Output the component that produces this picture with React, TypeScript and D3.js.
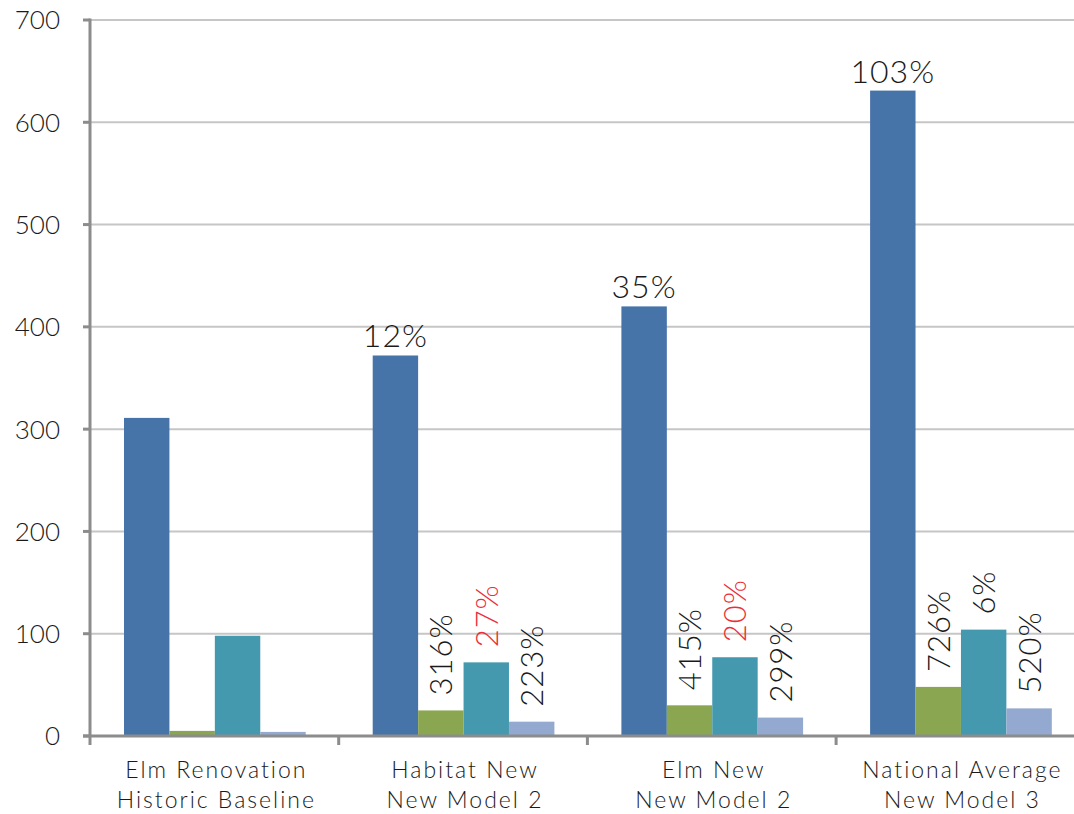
import React from "react";
import * as d3 from "d3";

const categories = [
  ["Elm Renovation", "Historic Baseline"],
  ["Habitat New", "New Model 2"],
  ["Elm New", "New Model 2"],
  ["National Average", "New Model 3"],
];
const seriesNames = ["s1", "s2", "s3", "s4"];
const seriesColors = ["#4674A9", "#8BA650", "#4599AF", "#93A9CF"];

// values per series, one entry per category
const series1 = [311, 372, 420, 631];
const series2 = [5, 25, 30, 48];
const series3 = [98, 72, 77, 104];
const series4 = [4, 14, 18, 27];

// percent labels: top labels on series 1, rotated labels on series 2-4
const topLabels = [null, "12%", "35%", "103%"];
const s2Labels = [null, "316%", "415%", "726%"];
const s3Labels = [null, "27%", "20%", "6%"];
const s4Labels = [null, "223%", "299%", "520%"];
const s3Red = [false, true, true, false];

const yTicks = [0, 100, 200, 300, 400, 500, 600, 700];

const W = 1074;
const H = 814;
const FONT = "Lato, 'Open Sans', sans-serif";

export default function App() {
  const left = 90;
  const top = 20;
  const bottom = 736;
  const bandW = 248.7;

  const y = d3.scaleLinear().domain([0, 700]).range([bottom, top]);
  const x = d3
    .scaleBand<number>()
    .domain(d3.range(categories.length))
    .range([left, left + bandW * categories.length])
    .padding(0);
  const inner = d3
    .scaleBand<number>()
    .domain(d3.range(seriesNames.length))
    .range([34, bandW - 33])
    .padding(0);

  const allSeries = [series1, series2, series3, series4];
  const rotLabels = [null, s2Labels, s3Labels, s4Labels];

  const capHalf = 11.5;
  const gap = 15;

  return (
    <svg
      width={W}
      height={H}
      style={{ position: "absolute", left: 0, top: 0, background: "#fff" }}
      fontFamily={FONT}
      fontWeight={300}
    >
      {/* gridlines */}
      {yTicks.map((t) =>
        t === 0 ? null : (
          <line
            key={"g" + t}
            x1={left}
            x2={W}
            y1={y(t)}
            y2={y(t)}
            stroke="#c6c6c6"
            strokeWidth={2}
          />
        )
      )}
      {/* y tick labels and marks */}
      {yTicks.map((t) => (
        <g key={"t" + t}>
          <line x1={83} x2={left} y1={y(t)} y2={y(t)} stroke="#8c8c8c" strokeWidth={3} />
          <text
            x={60}
            y={y(t)}
            dy="0.36em"
            textAnchor="end"
            fontSize={26}
            fill="#1a1a1a"
          >
            {t}
          </text>
        </g>
      ))}

      {/* bars */}
      {allSeries.map((vals, si) =>
        vals.map((v, ci) => (
          <rect
            key={`b${si}-${ci}`}
            x={(x(ci) as number) + (inner(si) as number)}
            y={y(v)}
            width={inner.bandwidth()}
            height={bottom - y(v)}
            fill={seriesColors[si]}
          />
        ))
      )}

      {/* axes */}
      <line x1={left} x2={left} y1={top - 1.5} y2={bottom} stroke="#8c8c8c" strokeWidth={3} />
      <line x1={83} x2={W} y1={bottom} y2={bottom} stroke="#8c8c8c" strokeWidth={3} />
      {categories.map((_, ci) => (
        <line
          key={"ct" + ci}
          x1={x(ci) as number}
          x2={x(ci) as number}
          y1={bottom}
          y2={bottom + 9}
          stroke="#8c8c8c"
          strokeWidth={3}
        />
      ))}

      {/* category labels */}
      {categories.map((lines, ci) => (
        <text
          key={"cl" + ci}
          x={(x(ci) as number) + bandW / 2 + 2}
          textAnchor="middle"
          fontSize={23}
          fill="#1a1a1a"
          letterSpacing={2}
        >
          {lines.map((l, li) => (
            <tspan key={li} x={(x(ci) as number) + bandW / 2 + 2} y={778 + li * 30}>
              {l}
            </tspan>
          ))}
        </text>
      ))}

      {/* top labels over series 1 */}
      {series1.map((v, ci) =>
        topLabels[ci] ? (
          <text
            key={"tl" + ci}
            x={(x(ci) as number) + (inner(0) as number) + inner.bandwidth() / 2}
            y={y(v) - 8}
            textAnchor="middle"
            fontSize={32}
            fill="#1a1a1a"
            letterSpacing={1}
          >
            {topLabels[ci]}
          </text>
        ) : null
      )}

      {/* rotated labels over series 2-4 */}
      {[1, 2, 3].map((si) =>
        allSeries[si].map((v, ci) => {
          const lab = (rotLabels[si] as (string | null)[])[ci];
          if (!lab) return null;
          const cx = (x(ci) as number) + (inner(si) as number) + inner.bandwidth() / 2 + capHalf;
          const cy = y(v) - gap;
          const red = si === 2 && s3Red[ci];
          return (
            <text
              key={`rl${si}-${ci}`}
              transform={`translate(${cx},${cy}) rotate(-90)`}
              fontSize={31}
              fill={red ? "#EE2E36" : "#1a1a1a"}
              letterSpacing={1}
            >
              {lab}
            </text>
          );
        })
      )}
    </svg>
  );
}
